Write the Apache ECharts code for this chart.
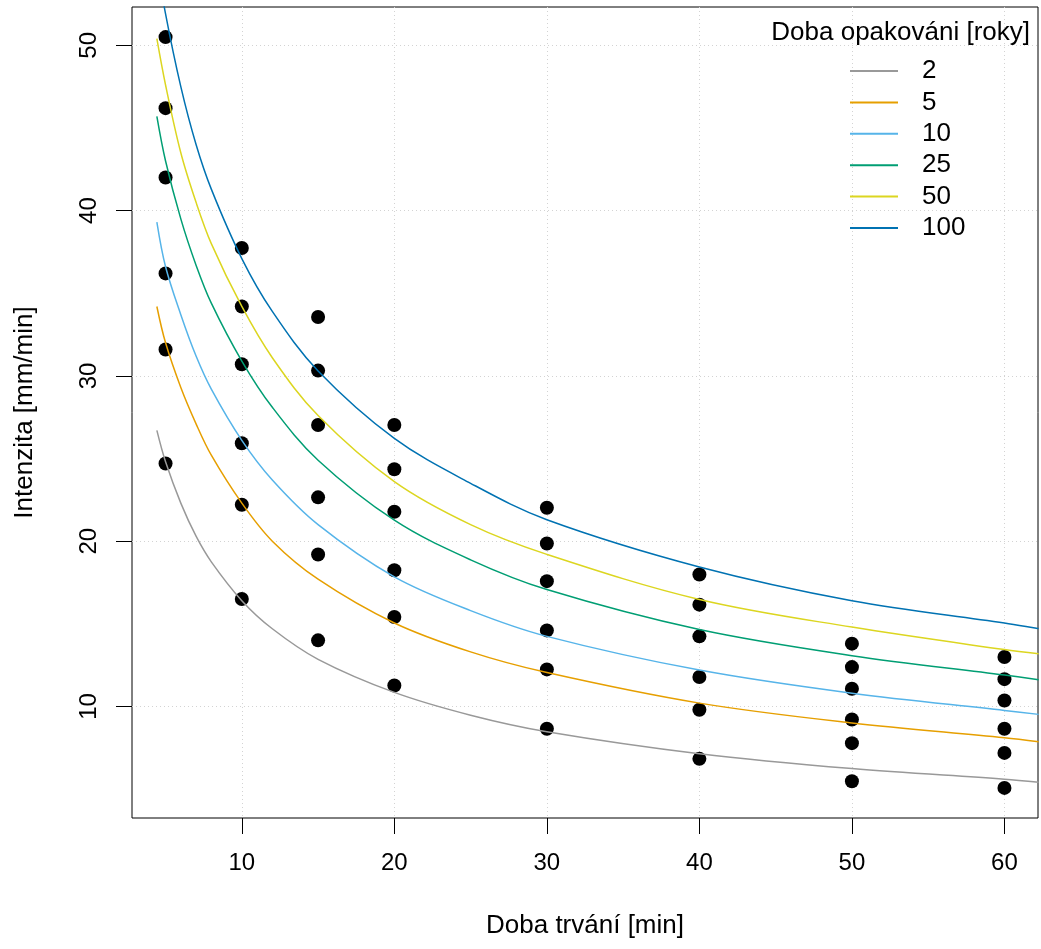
<!DOCTYPE html>
<html>
<head>
<meta charset="utf-8">
<script src="https://cdn.jsdelivr.net/npm/echarts@6/dist/echarts.min.js"></script>
<style>
    html, body { margin: 0; padding: 0; background: #fff; }
    #idfChart { width: 1041px; height: 949px; }
</style>
</head>
<body>
<div id="idfChart"></div>
<script>
// pozorovane intenzity (doba trvani x doba opakovani)
const durations = [5, 10, 15, 20, 30, 40, 50, 60];
const obs2 = [24.7, 16.5, 14.0, 11.27, 8.65, 6.83, 5.47, 5.07];
const obs5 = [31.6, 22.2, 19.19, 15.41, 12.24, 9.8, 7.78, 7.19];
const obs10 = [36.2, 25.92, 22.65, 18.24, 14.6, 11.78, 9.21, 8.65];
const obs25 = [42.0, 30.7, 27.03, 21.78, 17.58, 14.24, 11.07, 10.36];
const obs50 = [46.2, 34.2, 30.32, 24.35, 19.86, 16.16, 12.38, 11.65];
const obs100 = [50.5, 37.74, 33.56, 27.03, 22.02, 17.98, 13.8, 12.99];

// vyrovnane krivky
const curveT = [4.43, 5, 6, 7, 8, 10, 12, 15, 20, 25, 30, 40, 50, 60, 62.24];
const curve2 = [26.7, 24.8, 22.3, 20.3, 18.75, 16.4, 14.7, 12.85, 10.85, 9.47, 8.47, 7.14, 6.24, 5.6, 5.42];
const curve5 = [34.2, 32.0, 29.3, 27.1, 25.2, 22.3, 20.0, 17.7, 15.05, 13.3, 12.05, 10.2, 9.0, 8.1, 7.86];
const curve10 = [39.3, 36.6, 33.7, 31.2, 29.2, 26.1, 23.7, 21.0, 17.84, 15.8, 14.24, 12.2, 10.8, 9.76, 9.52];
const curve25 = [45.7, 43.0, 39.5, 36.7, 34.4, 30.9, 28.1, 24.9, 21.27, 18.87, 17.07, 14.65, 13.07, 11.9, 11.62];
const curve50 = [50.4, 47.6, 43.5, 40.5, 38.0, 34.2, 31.1, 27.6, 23.6, 21.0, 19.2, 16.47, 14.8, 13.44, 13.19];
const curve100 = [55.1, 51.9, 47.5, 44.0, 41.3, 37.1, 33.9, 30.3, 26.22, 23.5, 21.3, 18.44, 16.4, 15.05, 14.71];

const periods = ['2', '5', '10', '25', '50', '100'];
const xTicks = [10, 20, 30, 40, 50, 60];
const yTicks = [10, 20, 30, 40, 50];

const colors = ['#999999', '#E69F00', '#56B4E9', '#009E73', '#DCD620', '#0072B2'];
const fontName = 'Liberation Sans';

const idfChart = echarts.init(document.getElementById('idfChart'));

function pairs(xs, ys) {
    return xs.map((x, i) => [x, ys[i]]);
}

function defineIdfOption() {
    const obsAll = [obs2, obs5, obs10, obs25, obs50, obs100];
    const curvesAll = [curve2, curve5, curve10, curve25, curve50, curve100];

    let points = [];
    obsAll.forEach((row) => {
        points = points.concat(pairs(durations, row));
    });

    let series = [{
        name: 'body',
        type: 'scatter',
        symbol: 'circle',
        symbolSize: 14,
        itemStyle: { color: '#000', opacity: 1 },
        z: 1,
        silent: true,
        data: points
    }];

    curvesAll.forEach((c, i) => {
        series.push({
            name: periods[i],
            type: 'line',
            smooth: 0.35,
            showSymbol: false,
            clip: true,
            z: 3,
            lineStyle: { color: colors[i], width: 1.5 },
            itemStyle: { color: colors[i] },
            data: pairs(curveT, c)
        });
    });

    return {
        animation: false,
        backgroundColor: '#fff',
        textStyle: { fontFamily: fontName },
        title: {
            text: 'Doba opakováni [roky]',
            right: 11,
            top: 20,
            padding: 0,
            textStyle: { fontFamily: fontName, fontWeight: 'normal', fontSize: 26, color: '#000' }
        },
        legend: {
            data: periods,
            orient: 'vertical',
            left: 850,
            top: 58,
            padding: 0,
            itemGap: 5.4,
            itemWidth: 48,
            itemHeight: 2,
            icon: 'rect',
            textStyle: {
                fontFamily: fontName,
                fontSize: 26,
                lineHeight: 22,
                color: '#000',
                padding: [0, 0, 0, 19]
            }
        },
        grid: {
            left: 132,
            top: 7,
            width: 906,
            height: 811,
            show: true,
            borderColor: '#000',
            borderWidth: 1
        },
        xAxis: {
            type: 'value',
            min: 2.8,
            max: 62.2,
            name: 'Doba trvání [min]',
            nameLocation: 'middle',
            nameGap: 95,
            nameTextStyle: { fontFamily: fontName, fontSize: 26, color: '#000' },
            axisLine: { show: false },
            axisTick: { show: true, length: 16, lineStyle: { color: '#000' }, customValues: xTicks },
            axisLabel: { fontSize: 24, color: '#000', margin: 33, customValues: xTicks },
            splitLine: { show: true, lineStyle: { color: '#d3d3d3', type: [1, 3] } }
        },
        yAxis: {
            type: 'value',
            min: 3.25,
            max: 52.32,
            name: 'Intenzita [mm/min]',
            nameLocation: 'middle',
            nameGap: 94,
            nameRotate: 90,
            nameTextStyle: { fontFamily: fontName, fontSize: 26, color: '#000' },
            axisLine: { show: false },
            axisTick: { show: true, length: 16, lineStyle: { color: '#000' }, customValues: yTicks },
            axisLabel: { fontSize: 24, color: '#000', margin: 31, rotate: 90, customValues: yTicks },
            splitLine: { show: true, lineStyle: { color: '#d3d3d3', type: [1, 3] } }
        },
        series: series
    };
}

idfChart.setOption(defineIdfOption());
</script>
</body>
</html>
